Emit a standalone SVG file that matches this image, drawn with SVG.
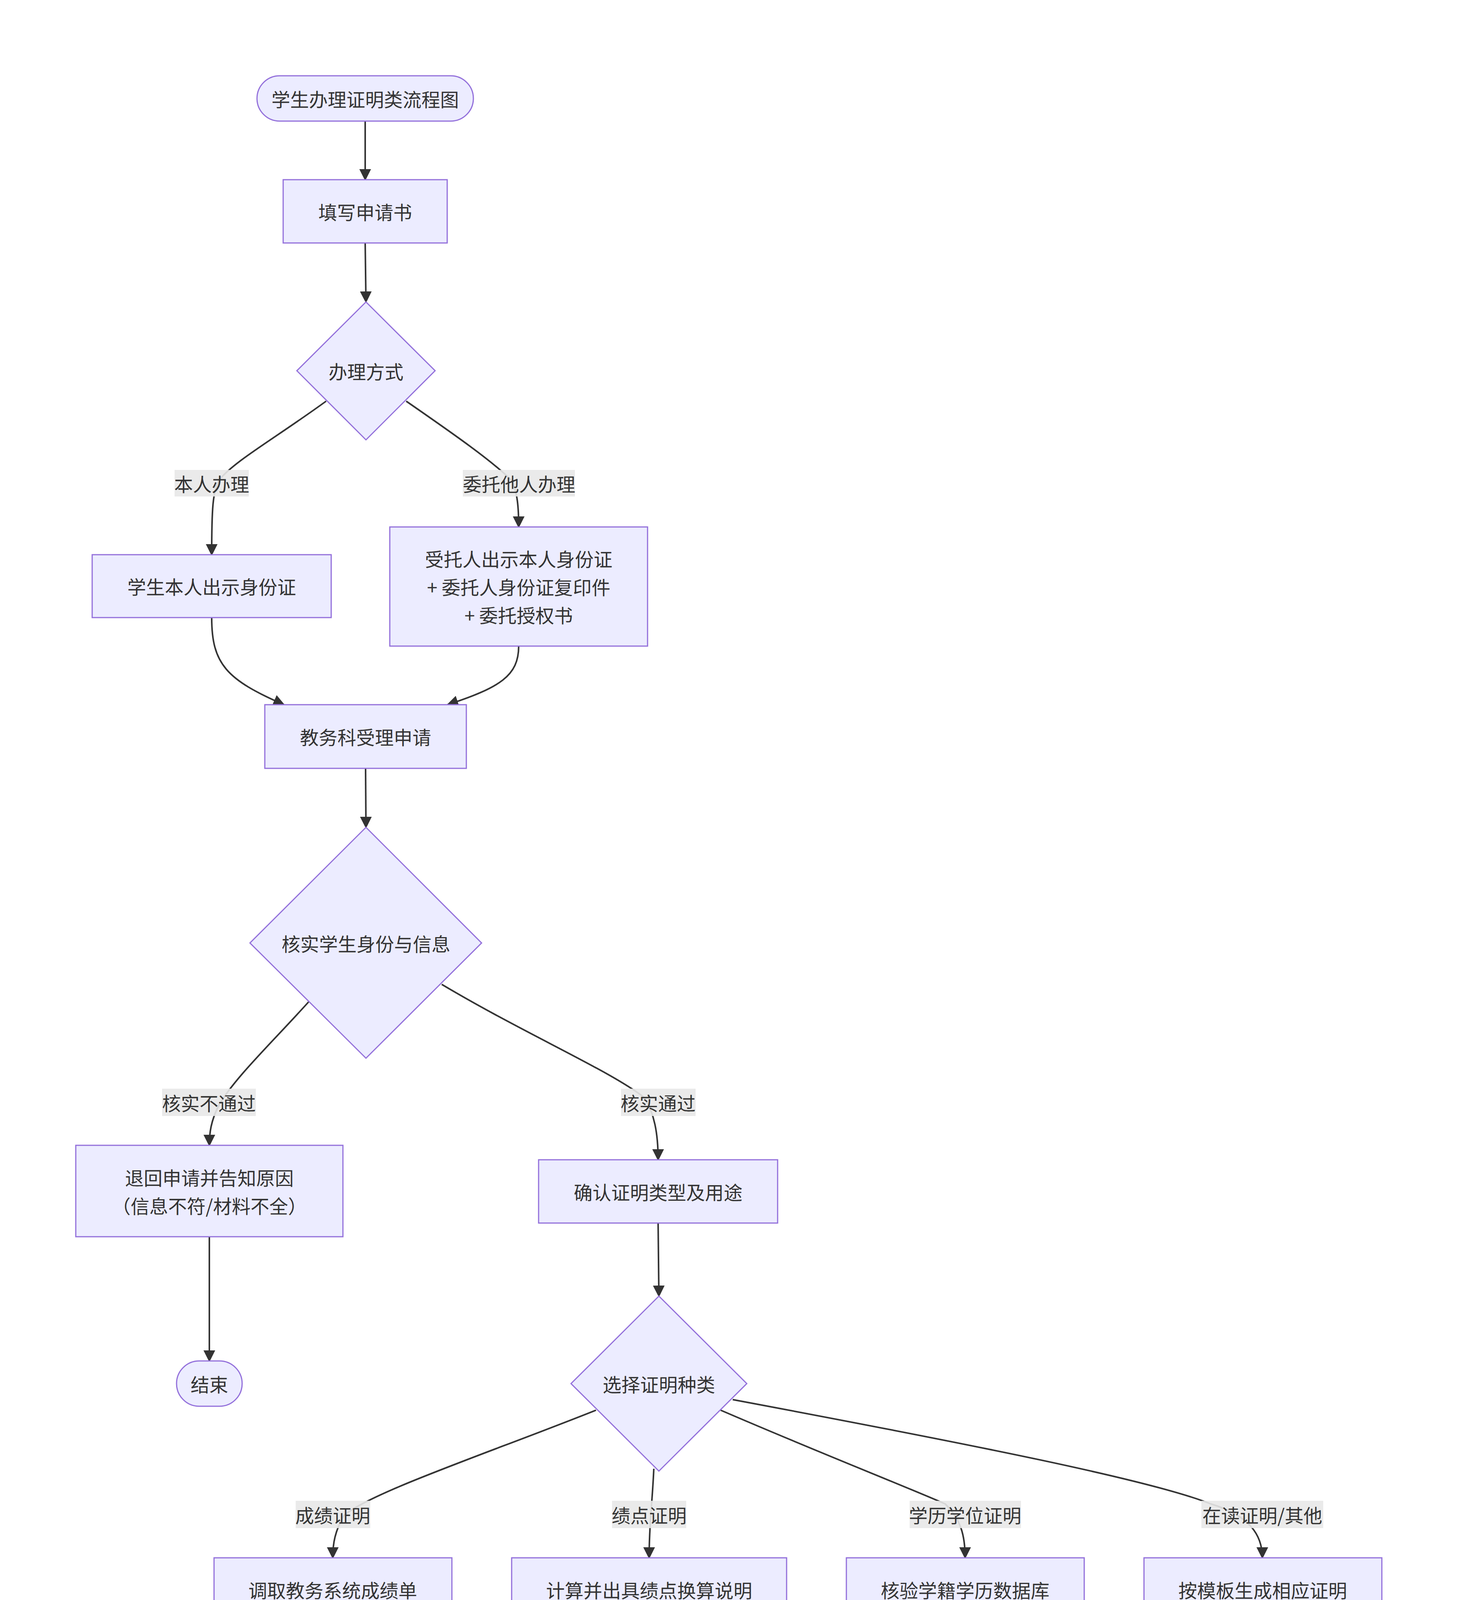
<svg xmlns="http://www.w3.org/2000/svg" width="3733" height="7035" viewBox="0 0 3733 7035">
<style>
.n{fill:#ECECFF;stroke:#9370DB;stroke-width:3}
.t{font-family:"Noto Sans CJK SC","Noto Sans",sans-serif;font-size:48px;fill:#333;text-anchor:middle;dominant-baseline:central}
.e{fill:none;stroke:#333;stroke-width:4}
.lb{fill:#e8e8e8;opacity:0.9}
</style>
<defs>
<marker id="a" markerUnits="userSpaceOnUse" markerWidth="30" markerHeight="30" viewBox="0 0 10 10" refX="9" refY="5" orient="auto">
<path d="M0,0 L10,5 L0,10 z" fill="#333"/>
</marker>
</defs>
<rect width="3733" height="7035" fill="#fff"/>
<g id="edges">
<path class="e" marker-end="url(#a)" d="M935,310 L935,460"/>
<path class="e" marker-end="url(#a)" d="M935,622 L937,773"/>
<path class="e" marker-end="url(#a)" d="M835,1027 C700,1125 600,1180 560,1230 C545,1260 542,1300 542,1420"/>
<path class="e" marker-end="url(#a)" d="M1040,1027 C1160,1110 1260,1180 1310,1230 C1325,1260 1328,1300 1328,1349"/>
<path class="e" marker-end="url(#a)" d="M542,1581 C542,1700 580,1740 727,1804"/>
<path class="e" marker-end="url(#a)" d="M1328,1654 C1328,1730 1280,1760 1146,1804"/>
<path class="e" marker-end="url(#a)" d="M936,1967 L937,2118"/>
<path class="e" marker-end="url(#a)" d="M790,2565 C700,2665 600,2760 560,2830 C540,2870 536,2900 536,2932"/>
<path class="e" marker-end="url(#a)" d="M1131,2520 C1350,2650 1560,2740 1650,2810 C1675,2850 1685,2900 1685,2969"/>
<path class="e" marker-end="url(#a)" d="M536,3166 L536,3484"/>
<path class="e" marker-end="url(#a)" d="M1685,3131 L1687,3318"/>
<path class="e" marker-end="url(#a)" d="M1526,3610 C1250,3720 950,3820 880,3880 C858,3920 852,3950 852,3988"/>
<path class="e" marker-end="url(#a)" d="M1674,3760 C1670,3850 1662,3900 1662,3988"/>
<path class="e" marker-end="url(#a)" d="M1845,3610 C2100,3720 2330,3810 2420,3850 C2460,3890 2471,3930 2471,3988"/>
<path class="e" marker-end="url(#a)" d="M1876,3583 C2500,3700 2950,3790 3100,3850 C3200,3880 3232,3930 3232,3988"/>
<path class="e" marker-end="url(#a)" d="M852,4150 C852,4260 1300,4290 1764,4337"/>
<path class="e" marker-end="url(#a)" d="M1662,4150 C1662,4240 1740,4280 1880,4299"/>
<path class="e" marker-end="url(#a)" d="M2471,4150 C2471,4230 2390,4270 2310,4299"/>
<path class="e" marker-end="url(#a)" d="M3233,4150 C3233,4260 2800,4300 2479,4330"/>
<path class="e" marker-end="url(#a)" d="M2121,4462 L2121,4612"/>
<path class="e" marker-end="url(#a)" d="M2121,4846 L2121,4996"/>
<path class="e" marker-end="url(#a)" d="M2121,5230 L2121,5381"/>
<path class="e" marker-end="url(#a)" d="M2121,5542 L2122,5693"/>
<path class="e" marker-end="url(#a)" d="M1938,6007 C1500,6150 1200,6260 1090,6330 C1060,6360 1055,6390 1055,6412"/>
<path class="e" marker-end="url(#a)" d="M1995,6065 C1900,6160 1800,6250 1770,6330 C1750,6370 1745,6390 1745,6412"/>
<path class="e" marker-end="url(#a)" d="M2252,6063 C2350,6170 2450,6250 2480,6310 C2500,6360 2508,6390 2508,6412"/>
<path class="e" marker-end="url(#a)" d="M1055,6574 C1055,6700 1500,6720 2001,6778"/>
<path class="e" marker-end="url(#a)" d="M1745,6574 C1745,6680 1900,6730 2010,6757"/>
<path class="e" marker-end="url(#a)" d="M2508,6574 C2508,6680 2250,6730 2168,6757"/>
</g>
<g id="edge-labels">
<rect class="lb" x="447" y="1203" width="190" height="68"/><text class="t" x="542" y="1237">本人办理</text>
<rect class="lb" x="1185" y="1203" width="287" height="68"/><text class="t" x="1329" y="1237">委托他人办理</text>
<rect class="lb" x="415" y="2787" width="240" height="70"/><text class="t" x="535" y="2822">核实不通过</text>
<rect class="lb" x="1590" y="2787" width="191" height="70"/><text class="t" x="1685" y="2822">核实通过</text>
<rect class="lb" x="757" y="3842" width="191" height="70"/><text class="t" x="852" y="3877">成绩证明</text>
<rect class="lb" x="1567" y="3842" width="190" height="70"/><text class="t" x="1662" y="3877">绩点证明</text>
<rect class="lb" x="2329" y="3842" width="285" height="70"/><text class="t" x="2471" y="3877">学历学位证明</text>
<rect class="lb" x="3076" y="3842" width="312" height="70"/><text class="t" x="3232" y="3877">在读证明/其他</text>
<rect class="lb" x="959" y="6265" width="191" height="73"/><text class="t" x="1054" y="6301">现场取件</text>
<rect class="lb" x="1624" y="6265" width="240" height="73"/><text class="t" x="1744" y="6301">邮寄纸质件</text>
<rect class="lb" x="2387" y="6265" width="240" height="73"/><text class="t" x="2507" y="6301">发送电子件</text>
</g>
<g id="start"><rect class="n" x="658" y="194" width="554" height="116" rx="58"/><text class="t" x="935" y="252">学生办理证明类流程图</text></g>
<g id="fill"><rect class="n" x="725" y="460" width="420" height="162"/><text class="t" x="935" y="541">填写申请书</text></g>
<g id="mode"><polygon class="n" points="937,773 1114,949 937,1126 760,949"/><text class="t" x="937" y="949">办理方式</text></g>
<g id="self"><rect class="n" x="236" y="1420" width="612" height="161"/><text class="t" x="542" y="1500">学生本人出示身份证</text></g>
<g id="proxy"><rect class="n" x="998" y="1349" width="660" height="305"/><text class="t" x="1328" y="1429">受托人出示本人身份证</text><text class="t" x="1328" y="1501">+ 委托人身份证复印件</text><text class="t" x="1328" y="1573">+ 委托授权书</text></g>
<g id="accept"><rect class="n" x="678" y="1804" width="516" height="163"/><text class="t" x="936" y="1885">教务科受理申请</text></g>
<g id="verify"><polygon class="n" points="937,2118 1233,2414 937,2709 640,2414"/><text class="t" x="937" y="2414">核实学生身份与信息</text></g>
<g id="reject"><rect class="n" x="194" y="2932" width="684" height="234"/><text class="t" x="536" y="3013">退回申请并告知原因</text><text class="t" x="536" y="3085">（信息不符/材料不全）</text></g>
<g id="end"><rect class="n" x="452" y="3484" width="168" height="116" rx="58"/><text class="t" x="536" y="3542">结束</text></g>
<g id="confirm"><rect class="n" x="1379" y="2969" width="612" height="162"/><text class="t" x="1685" y="3050">确认证明类型及用途</text></g>
<g id="choose"><polygon class="n" points="1687,3318 1912,3542 1687,3766 1462,3542"/><text class="t" x="1687" y="3542">选择证明种类</text></g>
<g id="b1"><rect class="n" x="548" y="3988" width="609" height="162"/><text class="t" x="852" y="4069">调取教务系统成绩单</text></g>
<g id="b2"><rect class="n" x="1310" y="3988" width="704" height="162"/><text class="t" x="1662" y="4069">计算并出具绩点换算说明</text></g>
<g id="b3"><rect class="n" x="2167" y="3988" width="609" height="162"/><text class="t" x="2471" y="4069">核验学籍学历数据库</text></g>
<g id="b4"><rect class="n" x="2929" y="3988" width="609" height="162"/><text class="t" x="3233" y="4069">按模板生成相应证明</text></g>
<g id="print"><rect class="n" x="1764" y="4299" width="715" height="163"/><text class="t" x="2121" y="4380">打印纸质版 / 生成电子版</text></g>
<g id="seal"><rect class="n" x="1791" y="4612" width="659" height="234"/><text class="t" x="2121" y="4693">加盖继续教育学院公章</text><text class="t" x="2121" y="4765">（或电子签章）</text></g>
<g id="ledger"><rect class="n" x="1730" y="4996" width="781" height="234"/><text class="t" x="2121" y="5077">登记办理台账</text><text class="t" x="2121" y="5149">（日期、姓名、份数、用途）</text></g>
<g id="sign"><rect class="n" x="1791" y="5381" width="659" height="161"/><text class="t" x="2121" y="5461">学生或委托人签字确认</text></g>
<g id="deliver"><polygon class="n" points="2122,5693 2371,5941 2122,6189 1873,5941"/><text class="t" x="2122" y="5941">领取与送达方式</text></g>
<g id="d1"><rect class="n" x="821" y="6412" width="468" height="162"/><text class="t" x="1055" y="6493">现场领取原件</text></g>
<g id="d2"><rect class="n" x="1439" y="6412" width="613" height="162"/><text class="t" x="1745" y="6493">登记邮寄地址并寄送</text></g>
<g id="d3"><rect class="n" x="2202" y="6412" width="612" height="162"/><text class="t" x="2508" y="6493">发送至学生预留邮箱</text></g>
<g id="done"><rect class="n" x="2001" y="6723" width="169" height="118" rx="59"/><text class="t" x="2085" y="6782">办结</text></g>
</svg>
